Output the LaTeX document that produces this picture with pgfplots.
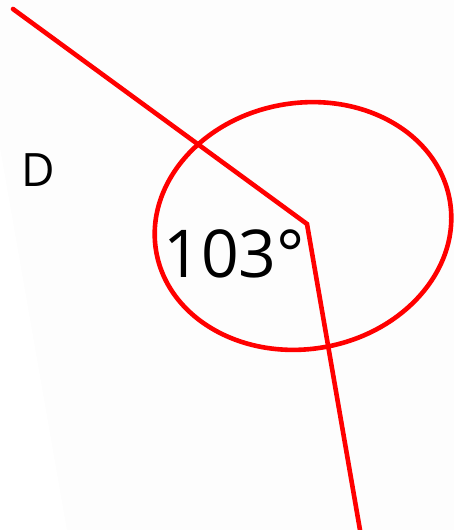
\documentclass[border=0pt]{standalone}
\usepackage{pgfplots}
\pgfplotsset{compat=1.18}
\usepackage{fontspec}
\setmainfont{Open Sans}
\definecolor{bg}{HTML}{FDFDFD}
\definecolor{lred}{HTML}{FF0000}
\begin{document}
\begin{tikzpicture}
\begin{axis}[
  scale only axis, width=227pt, height=265pt,
  xmin=0, xmax=454, ymin=0, ymax=530, y dir=reverse,
  axis lines=none, xtick=\empty, ytick=\empty,
  clip=true,
]
% background
\addplot[draw=none, fill=bg] coordinates {(0,0) (454,0) (454,530) (0,530)} -- cycle;
\addplot[draw=none, fill=white] coordinates {(0,147) (67,530) (0,530)} -- cycle;
% angle ellipse
\draw[lred, line width=2.3pt, rotate around={10:(axis cs:303,226)}] (axis cs:303,226) ellipse [x radius=74.5pt, y radius=61.5pt];
% rays
\addplot[lred, line width=2.3pt, line cap=round, line join=miter, mark=none] coordinates {(13,9) (307,224) (360,530)};
% labels
\node[font=\fontsize{33}{38}\selectfont, anchor=center] at (axis cs:234,254) {103°};
\node[font=\fontsize{23}{27}\selectfont, anchor=center] at (axis cs:38,170) {D};
\end{axis}
\end{tikzpicture}
\end{document}
